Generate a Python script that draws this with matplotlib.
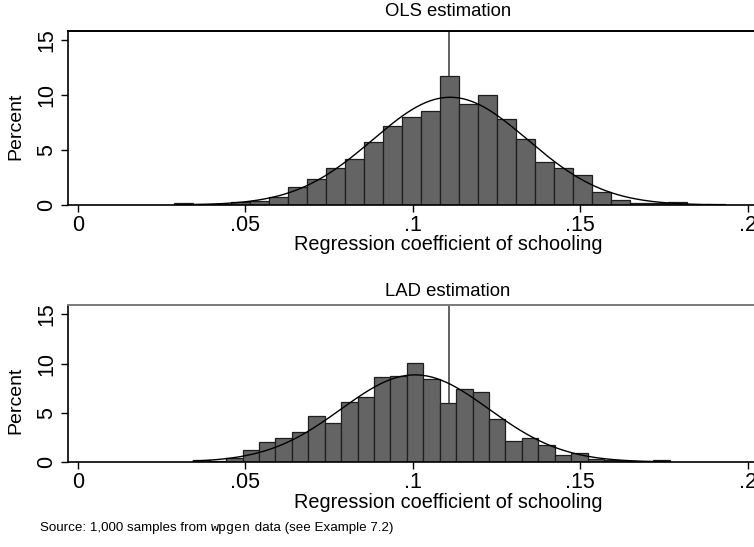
import numpy as np
import matplotlib
matplotlib.use("Agg")
import matplotlib.pyplot as plt

# Histogram of OLS estimates: first bin edge, bin width, percent per bin
ols_bin_start = 0.02884
ols_bin_width = 0.005671
ols_pct = [0.2, 0.1, 0.1, 0.3, 0.4, 0.7, 1.6, 2.4, 3.4, 4.2, 5.7, 7.2, 8.0, 8.5,
           11.7, 9.2, 10.0, 7.8, 6.0, 3.9, 3.4, 2.7, 1.2, 0.5, 0.2, 0.2, 0.3, 0.0, 0.1]

# Histogram of LAD estimates
lad_bin_start = 0.03451
lad_bin_width = 0.004905
lad_pct = [0.2, 0.1, 0.4, 1.2, 2.0, 2.4, 3.0, 4.7, 4.0, 6.1, 6.6, 8.6, 8.7, 10.1,
           8.4, 6.0, 7.4, 7.1, 4.4, 2.1, 2.4, 1.7, 0.7, 0.9, 0.3, 0.2, 0.1, 0.0, 0.2]

# Fitted normal densities (mean, sd) and the true coefficient
ols_mean, ols_sd = 0.1112, 0.0231
lad_mean, lad_sd = 0.1007, 0.0221
true_coef = 0.1108

x_ticks = [0, 0.05, 0.1, 0.15, 0.2]
x_tick_labels = ["0", ".05", ".1", ".15", ".2"]
y_ticks = [0, 5, 10, 15]
y_tick_labels = ["0", "5", "10", "15"]

titles = ["OLS estimation", "LAD estimation"]
x_title = "Regression coefficient of schooling"
y_title = "Percent"

SANS = "Liberation Sans"
MONO = "Liberation Mono"
plt.rcParams["font.family"] = [SANS, "DejaVu Sans"]

W, H = 754, 547
fig = plt.figure(figsize=(W / 100, H / 100), dpi=100)
fig.patch.set_facecolor("white")


def px_axes(left, top, right, bottom):
    return fig.add_axes([left / W, 1 - bottom / H, (right - left) / W, (bottom - top) / H])


def histogram(ax, start, width, pct, mu, sd, title, ytop, top_spine_color,
              hpx, title_y, xlab_y, ylab_y):
    pct = np.asarray(pct)
    edges = start + width * np.arange(len(pct) + 1)
    ax.axvline(true_coef, color="#555555", lw=1.3, zorder=1)
    ax.bar(edges[:-1], pct, width=width, align="edge", color="#646464",
           edgecolor="#1e1e1e", linewidth=0.9, zorder=2)
    xs = np.linspace(edges[0], edges[-1], 400)
    dens = 100 * width * np.exp(-0.5 * ((xs - mu) / sd) ** 2) / (np.sqrt(2 * np.pi) * sd)
    ax.plot(xs, dens, color="black", lw=1.0, zorder=3)

    ax.set_xlim(-0.0029, 0.2240)
    ax.set_ylim(0, ytop)
    ax.set_xticks(x_ticks)
    ax.set_xticklabels(x_tick_labels)
    ax.set_yticks(y_ticks)
    ax.set_yticklabels(y_tick_labels, rotation=90, va="center")
    ax.tick_params(axis="both", direction="out", length=5, width=1.0,
                   labelsize=15.5, colors="black")
    ax.tick_params(axis="x", pad=2.5)
    ax.tick_params(axis="y", pad=2.5)
    for s in ("left", "bottom"):
        ax.spines[s].set_color("black")
        ax.spines[s].set_linewidth(1.2)
    ax.spines["top"].set_color(top_spine_color)
    ax.spines["top"].set_linewidth(1.4)
    ax.spines["right"].set_visible(False)

    wpx = 760.0
    ax.text(0.5, title_y / hpx, title, transform=ax.transAxes,
            ha="center", va="center", fontsize=13.3)
    ax.set_xlabel(x_title, fontsize=14.3)
    ax.xaxis.set_label_coords(0.5, -xlab_y / hpx)
    ax.xaxis.label.set_va("center")
    ax.set_ylabel(y_title, fontsize=14.0)
    ax.yaxis.set_label_coords((16 - 68) / wpx, ylab_y / hpx)
    ax.yaxis.label.set_va("center")


# Top panel: plot area 68..828 px wide, 31..205 px tall
ax1 = px_axes(68, 31, 828, 205)
histogram(ax1, ols_bin_start, ols_bin_width, ols_pct, ols_mean, ols_sd,
          titles[0], 174 / 11.0, "black", 174.0,
          title_y=205 - 12, xlab_y=245 - 205, ylab_y=205 - 126)

# Bottom panel: 305..462 px tall
ax2 = px_axes(68, 305, 828, 462)
histogram(ax2, lad_bin_start, lad_bin_width, lad_pct, lad_mean, lad_sd,
          titles[1], 157 / 9.84, "#7a7a7a", 157.0,
          title_y=462 - 291, xlab_y=502 - 462, ylab_y=462 - 400)

# Source note with the dataset name set in a typewriter face
pieces = [("Source: 1,000 samples from ", SANS), ("wpgen", MONO),
          (" data (see Example 7.2)", SANS)]
fig.canvas.draw()
renderer = fig.canvas.get_renderer()
x_px = 40
y_frac = 1 - 527 / H
for txt, fam in pieces:
    t = fig.text(x_px / W, y_frac, txt, fontsize=9.6, family=fam,
                 ha="left", va="center_baseline")
    bb = t.get_window_extent(renderer)
    x_px += bb.width

fig.savefig("out.png", dpi=100)
